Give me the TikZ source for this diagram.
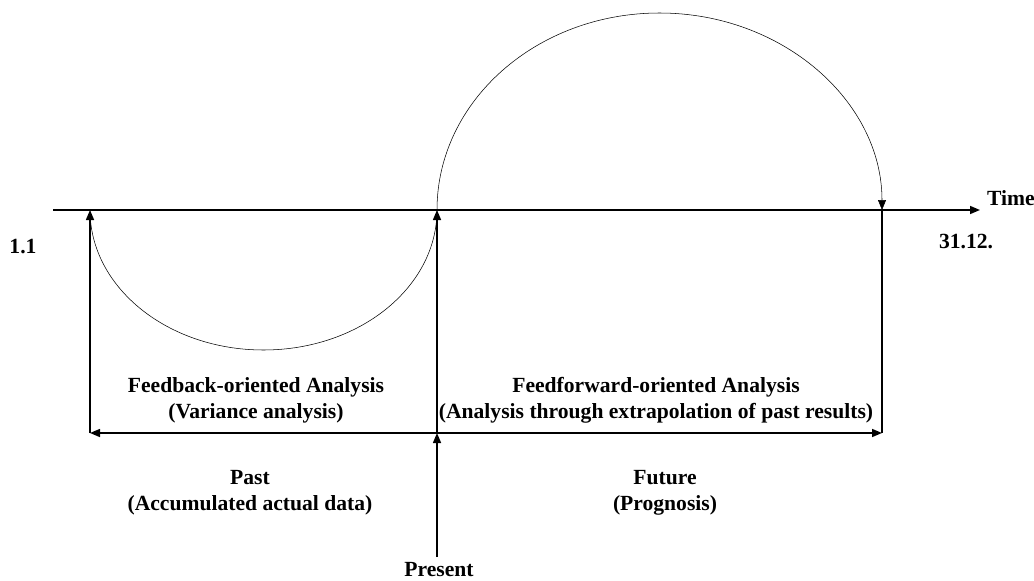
\documentclass[tikz,border=0pt]{standalone}
\usepackage{fontspec}
\setmainfont{Liberation Serif}
\usetikzlibrary{arrows.meta}

\begin{document}
\begin{tikzpicture}[x=0.75pt, y=-0.75pt,
        lbl/.style={font=\bfseries\fontsize{16.2}{19.5}\selectfont, align=center, inner sep=0pt},
        arr/.style={-{Triangle[length=7.5pt, width=6pt]}},
        axisline/.style={line width=1.1pt}]
    \useasboundingbox (0,0) rectangle (1034,581);

    \coordinate (axisL) at (53,210);
    \coordinate (axisR) at (980,210);
    \coordinate (start) at (90,210);
    \coordinate (now)   at (437,210);
    \coordinate (end)   at (882,210);
    \coordinate (startB) at (90,433);
    \coordinate (nowB)   at (437,433);
    \coordinate (endB)   at (882,433);
    \coordinate (nowT)   at (437,557);

    \node[lbl] (time)  at (1011,198) {Time};
    \node[lbl] (jan)   at (23,247)   {1.1};
    \node[lbl] (dec)   at (966,242)  {31.12.};
    \node[lbl] (fb)    at (256,400)  {Feedback-oriented Analysis\\(Variance analysis)};
    \node[lbl] (ff)    at (656,400)  {Feedforward-oriented Analysis\\(Analysis through extrapolation of past results)};
    \node[lbl] (past)  at (250,493)  {Past\\(Accumulated actual data)};
    \node[lbl] (fut)   at (665,493)  {Future\\(Prognosis)};
    \node[lbl] (pres)  at (439,570)  {Present};

    \draw[axisline, arr] (axisL) -- (axisR);
    \draw (start) arc[start angle=180, end angle=0, x radius=173.5, y radius=140];
    \draw[arr] (now) arc[start angle=180, end angle=360, x radius=222.5, y radius=197];

    \draw[axisline, arr] (startB) -- (start);
    \draw[axisline, arr] (nowB) -- (now);
    \draw[axisline] (endB) -- (end);
    \draw[axisline, arr] (nowT) -- (nowB);
    \draw[axisline, arr] (nowB) -- (startB);
    \draw[axisline, arr] (nowB) -- (endB);
\end{tikzpicture}
\end{document}
